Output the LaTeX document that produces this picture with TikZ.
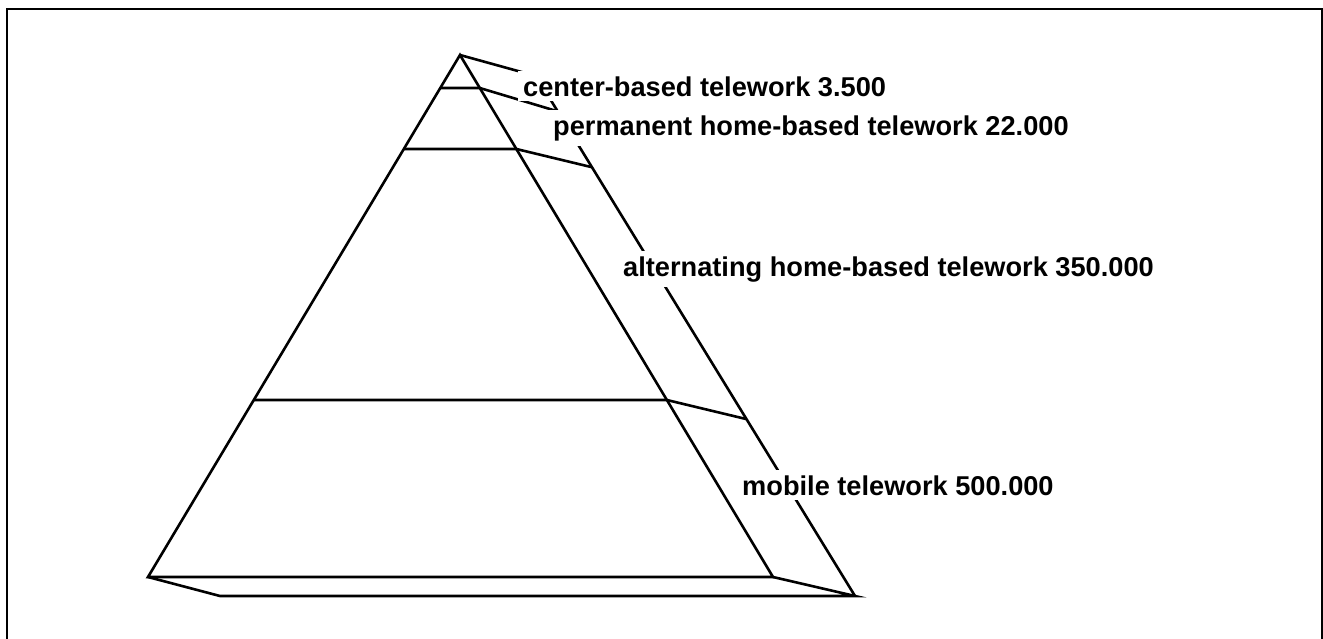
\documentclass[tikz,border=0pt]{standalone}
\usepackage{fontspec}
\setmainfont{Liberation Sans}
\begin{document}
\begin{tikzpicture}[x=1pt,y=-1pt,
  edge/.style={line width=2.6pt,line join=miter},
  lbl/.style={fill=white,inner sep=5pt,anchor=base west,font=\bfseries\fontsize{27.2}{30}\selectfont}]
\useasboundingbox (0,0) rectangle (1323,638);
\draw[line width=2.2pt] (7,640) -- (7,9) -- (1322,9) -- (1322,640);
% pyramid
\coordinate (A) at (460,55);
\coordinate (L) at (148,577);
\coordinate (R) at (773,577);
\coordinate (BL) at (220,596);
\coordinate (BR) at (855,596);
\coordinate (T) at (536,76);
\coordinate (l1a) at (440.3,88);  \coordinate (l1b) at (479.8,88);
\coordinate (l2a) at (403.8,149); \coordinate (l2b) at (516.4,149);
\coordinate (l3a) at (253.8,400); \coordinate (l3b) at (666.9,400);
\coordinate (b1) at (556.5,111);
\coordinate (b2) at (591,167);
\coordinate (b3) at (746,419);
\draw[edge] (L) -- (A) -- (R) -- cycle;
\draw[edge] (L) -- (BL) -- (BR) -- (R);
\draw[edge] (A) -- (T) -- (BR);
\draw[edge] (l1a) -- (l1b) -- (b1);
\draw[edge] (l2a) -- (l2b) -- (b2);
\draw[edge] (l3a) -- (l3b) -- (b3);
% labels
\node[lbl] (t1) at (518,96) {center-based telework 3.500};
\node[lbl] (t2) at (548,135) {permanent home-based telework 22.000};
\node[lbl] (t3) at (618,276) {alternating home-based telework 350.000};
\node[lbl] (t4) at (737,495) {mobile telework 500.000};
\end{tikzpicture}
\end{document}
